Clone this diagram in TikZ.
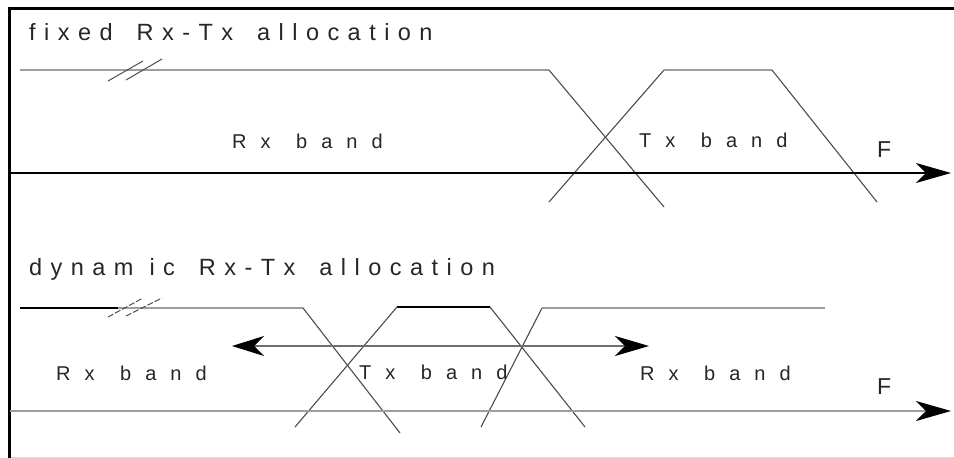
\documentclass[tikz,border=0pt]{standalone}
\usepackage{fontspec}
\setmainfont{Liberation Sans}
\newfontfamily\titlefont[LetterSpace=36]{Liberation Sans}
\newfontfamily\bandfont[LetterSpace=70]{Liberation Sans}
\usetikzlibrary{arrows.meta}
\definecolor{lgray}{gray}{0.62}
\definecolor{dgray}{gray}{0.3}
\definecolor{fgray}{gray}{0.85}
\newcommand{\wsp}{\hspace{9pt} }
\newcommand{\bsp}{\hspace{6pt} }
\tikzset{
  titletext/.style={anchor=base west, inner sep=0pt, font=\titlefont\fontsize{23.5}{27}\selectfont, text=black!85},
  bandtext/.style={anchor=base west, inner sep=0pt, font=\bandfont\fontsize{20}{24}\selectfont, text=black!85},
  ftext/.style={anchor=base west, inner sep=0pt, font=\fontsize{23}{27}\selectfont, text=black!85},
  flat/.style={lgray, line width=2pt},
  slope/.style={dgray, line width=1.1pt},
  axisarrow/.style={-{Stealth[length=35pt,width=20pt,inset=10pt]}},
  brk/.style={dgray, line width=1pt},
}
\begin{document}
\begin{tikzpicture}[x=1pt,y=-1pt]
\useasboundingbox (0,0) rectangle (954,458);
% frame
\coordinate (fTL) at (9,8);
\coordinate (fTR) at (954,8);
\coordinate (fBL) at (9,458);
\coordinate (fBR) at (954,457);
\coordinate (fBLs) at (9,457);
\draw[fgray, line width=1pt] (fBLs) -- (fBR);
\draw[black, line width=3pt] (fTR) -- (fTL) -- (fBL);

% ---------- fixed allocation ----------
\node[titletext] (t1) at (29,40) {fixed\wsp Rx-Tx\wsp allocation};
\coordinate (a0) at (20,70);
\coordinate (a1) at (549,70);
\coordinate (a2) at (664,207);
\coordinate (b0) at (549,202);
\coordinate (b1) at (664,70);
\coordinate (b2) at (772,70);
\coordinate (b3) at (877,202);
\draw[flat] (a0) -- (a1);
\draw[flat] (b1) -- (b2);
\draw[slope] (a1) -- (a2);
\draw[slope] (b0) -- (b1);
\draw[slope] (b2) -- (b3);
% break marks
\coordinate (k1s) at (108,81); \coordinate (k1e) at (143,61);
\coordinate (k2s) at (126,80); \coordinate (k2e) at (162,59);
\draw[brk] (k1s) -- (k1e);
\draw[brk] (k2s) -- (k2e);
% axis
\coordinate (ax1s) at (10,173);
\coordinate (ax1e) at (951,173);
\draw[black, line width=1.4pt, axisarrow] (ax1s) -- (ax1e);
\node[bandtext] (rx1) at (232,148) {Rx\bsp band};
\node[bandtext] (tx1) at (639,147) {Tx\bsp band};
\node[ftext] (F1) at (877,157) {F};

% ---------- dynamic allocation ----------
\node[titletext] (t2) at (29,275) {dynam\hspace{16pt}ic\wsp Rx-Tx\wsp allocation};
\coordinate (c0) at (20,308);
\coordinate (cm) at (118,308);
\coordinate (c1) at (303,308);
\coordinate (c2) at (400,433);
\coordinate (d0) at (295,427);
\coordinate (d1) at (397,307);
\coordinate (d2) at (490,307);
\coordinate (d3) at (585,427);
\coordinate (e0) at (481,427);
\coordinate (e1) at (542,308);
\coordinate (e2) at (825,308);
\draw[black, line width=1.4pt] (c0) -- (cm);
\draw[lgray, line width=1.6pt] (cm) -- (c1);
\draw[black, line width=1.6pt] (d1) -- (d2);
\draw[lgray, line width=1.6pt] (e1) -- (e2);
\draw[slope] (c1) -- (c2);
\draw[slope] (d0) -- (d1);
\draw[slope] (d2) -- (d3);
\draw[slope] (e0) -- (e1);
% break marks (dashed)
\coordinate (m1s) at (108,317); \coordinate (m1e) at (143,298);
\coordinate (m2s) at (126,316); \coordinate (m2e) at (162,298);
\draw[brk, dash pattern=on 6pt off 2pt] (m1s) -- (m1e);
\draw[brk, dash pattern=on 6pt off 2pt] (m2s) -- (m2e);
% double arrow
\coordinate (da1) at (232,346);
\coordinate (da2) at (649,346);
\draw[lgray!70!black, line width=1.6pt, {Stealth[length=32pt,width=20pt,inset=10pt,black]}-{Stealth[length=34pt,width=20pt,inset=10pt,black]}] (da1) -- (da2);
% axis
\coordinate (ax2s) at (10,411);
\coordinate (ax2e) at (951,411);
\draw[lgray, line width=2pt, -{Stealth[length=35pt,width=20pt,inset=10pt,black]}] (ax2s) -- (ax2e);
\node[bandtext] (rx2) at (56,380) {Rx\bsp band};
\node[bandtext] (tx2) at (359,379) {Tx\bsp band};
\node[bandtext] (rx3) at (640,380) {Rx\bsp band};
\node[ftext] (F2) at (877,394) {F};
\end{tikzpicture}
\end{document}
